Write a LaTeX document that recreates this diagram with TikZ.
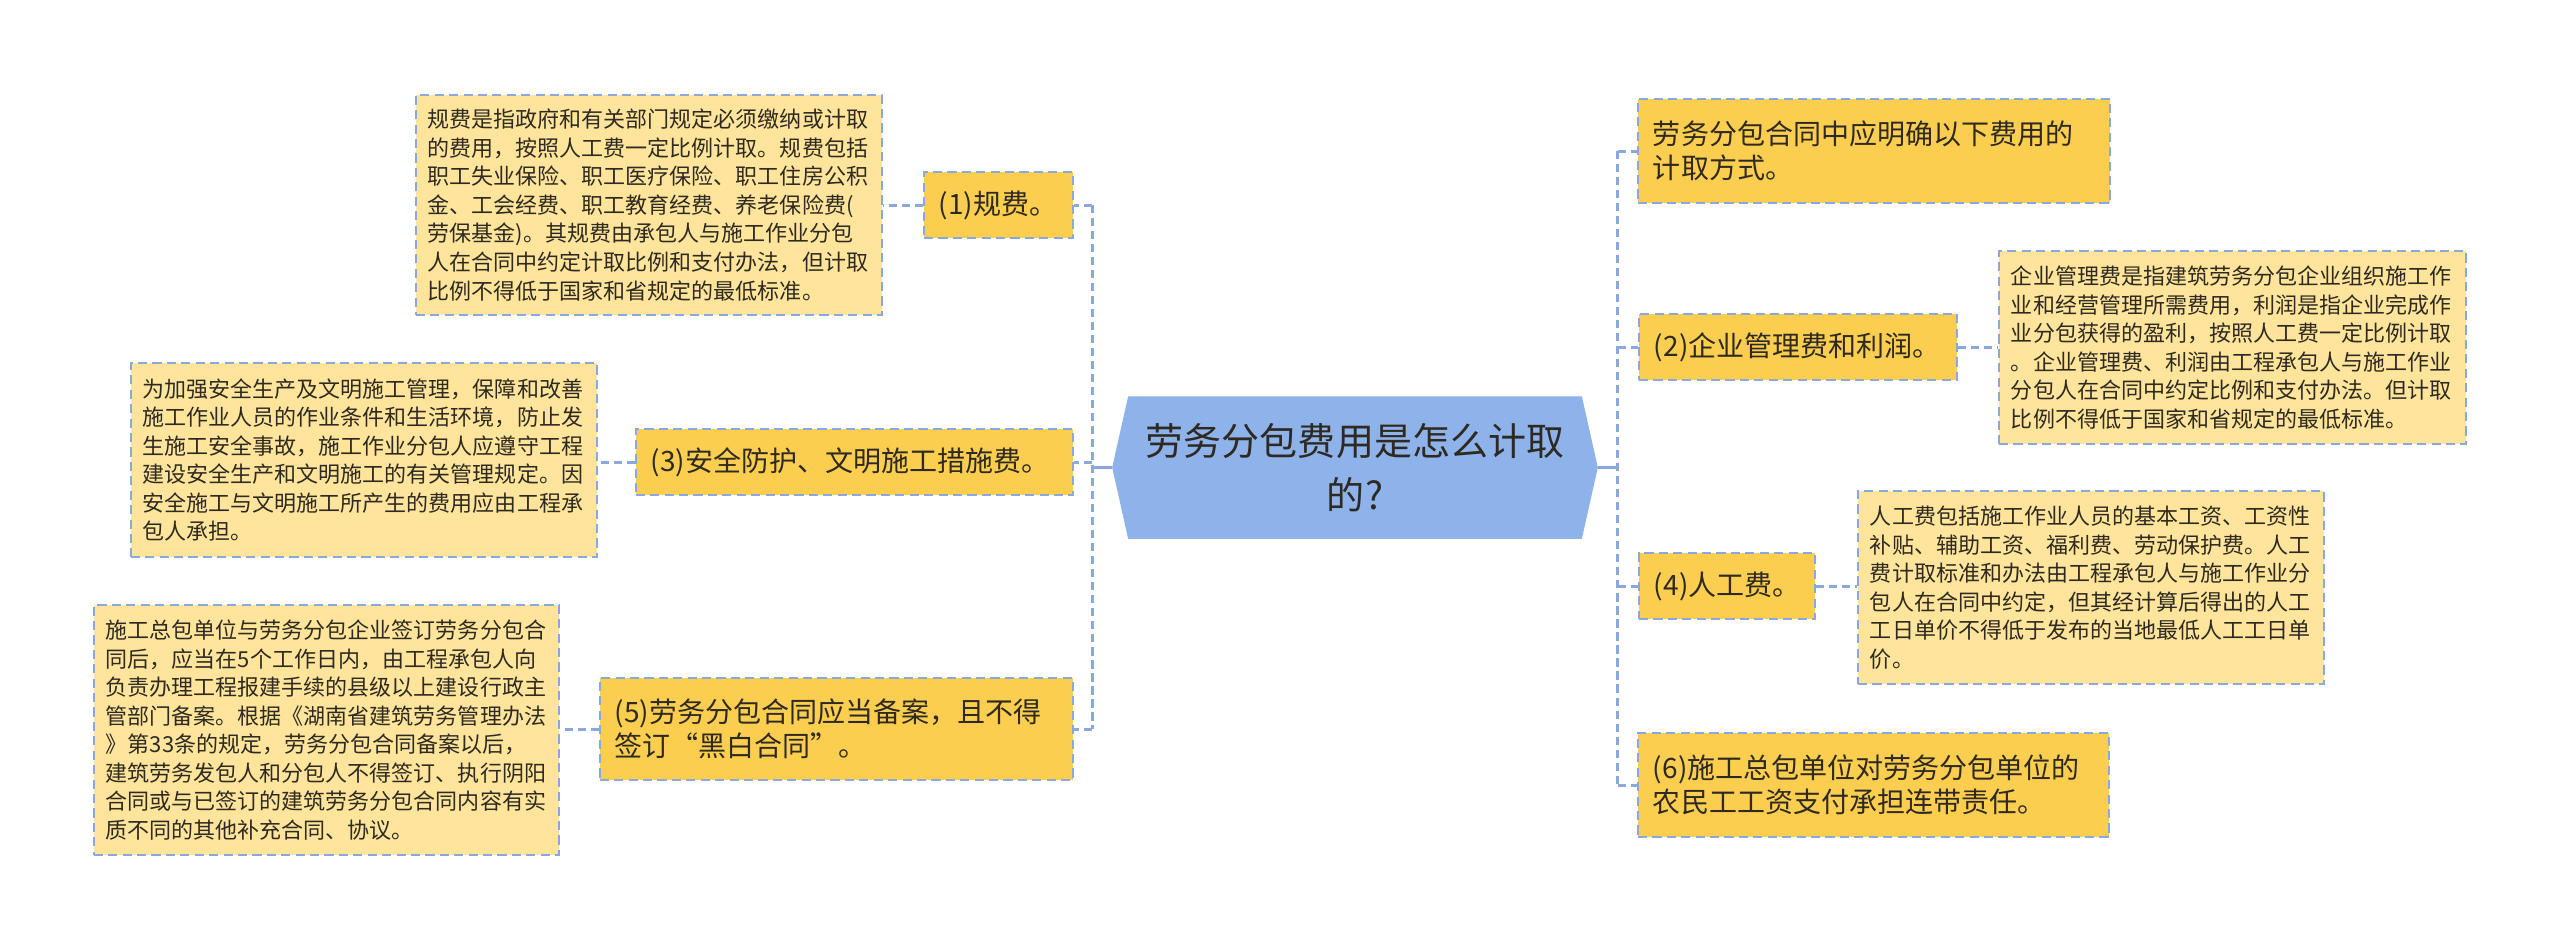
\documentclass[tikz,border=0pt]{standalone}
\usepackage{fontspec}
\usepackage{tikz}
\usetikzlibrary{calc, backgrounds}
\newfontfamily\cjk{Noto Sans CJK SC}
\definecolor{MapInk}{HTML}{2E2A22}
\definecolor{TopicFill}{HTML}{FCCE50}
\definecolor{NoteFill}{HTML}{FEE59B}
\definecolor{RootFill}{HTML}{8EB2EA}
\definecolor{LinkBlue}{HTML}{8AA8DE}

\begin{document}
\begin{tikzpicture}[x=0.01cm, y=-0.01cm,
  topic/.style={rectangle, fill=TopicFill, draw=LinkBlue, line width=0.55pt,
    dash pattern=on 2.6pt off 1.5pt, text=MapInk, align=left,
    font=\cjk\fontsize{7.97pt}{9.67pt}\selectfont,
    inner xsep=0.15cm, inner ysep=0pt, minimum height=0.66cm},
  note/.style={rectangle, fill=NoteFill, draw=LinkBlue, line width=0.55pt,
    dash pattern=on 2.6pt off 1.5pt, text=MapInk, align=left,
    font=\cjk\fontsize{6.26pt}{8.11pt}\selectfont,
    inner xsep=0.12cm, inner ysep=0pt},
  link/.style={draw=LinkBlue, line width=0.85pt, dash pattern=on 2.3pt off 1.4pt},
  stem/.style={draw=LinkBlue, line width=0.85pt}]
\useasboundingbox (0,0) rectangle (2560,950);

% centre
\node[text=MapInk, align=center, font=\cjk\fontsize{10.81pt}{15.36pt}\selectfont,
  minimum width=4.84cm, minimum height=1.41cm, text width=4.4cm, inner sep=0pt]
  (root) at (1355,467.5) {劳务分包费用是怎么计取\\的?};
\begin{scope}[on background layer]
\fill[RootFill] (root.west) -- ($(root.north west)+(16,0)$)
  -- ($(root.north east)+(-16,0)$) -- (root.east)
  -- ($(root.south east)+(-16,0)$) -- ($(root.south west)+(16,0)$) -- cycle;
\end{scope}

% left branch
\node[topic, anchor=east, text width=1.19cm] (n1) at (1074,205) {(1)规费。};
\node[topic, anchor=east, text width=4.07cm] (n3) at (1074,462)
  {(3)安全防护、文明施工措施费。};
\node[topic, anchor=east, text width=4.43cm, minimum height=1.02cm] (n5) at (1074,729)
  {(5)劳务分包合同应当备案，且不得\\签订“黑白合同”。};

\node[note, anchor=east, text width=4.42cm, minimum height=2.2cm] (d1) at (883,205)
  {规费是指政府和有关部门规定必须缴纳或计取\\
   的费用，按照人工费一定比例计取。规费包括\\
   职工失业保险、职工医疗保险、职工住房公积\\
   金、工会经费、职工教育经费、养老保险费(\\
   劳保基金)。其规费由承包人与施工作业分包\\
   人在合同中约定计取比例和支付办法，但计取\\
   比例不得低于国家和省规定的最低标准。};
\node[note, anchor=east, text width=4.42cm, minimum height=1.94cm] (d3) at (598,460)
  {为加强安全生产及文明施工管理，保障和改善\\
   施工作业人员的作业条件和生活环境，防止发\\
   生施工安全事故，施工作业分包人应遵守工程\\
   建设安全生产和文明施工的有关管理规定。因\\
   安全施工与文明施工所产生的费用应由工程承\\
   包人承担。};
\node[note, anchor=east, text width=4.41cm, minimum height=2.5cm] (d5) at (560,730)
  {施工总包单位与劳务分包企业签订劳务分包合\\
   同后，应当在5个工作日内，由工程承包人向\\
   负责办理工程报建手续的县级以上建设行政主\\
   管部门备案。根据《湖南省建筑劳务管理办法\\
   》第33条的规定，劳务分包合同备案以后，\\
   建筑劳务发包人和分包人不得签订、执行阴阳\\
   合同或与已签订的建筑劳务分包合同内容有实\\
   质不同的其他补充合同、协议。};

% right branch
\node[topic, anchor=west, text width=4.42cm, minimum height=1.04cm] (r0) at (1637,151)
  {劳务分包合同中应明确以下费用的\\计取方式。};
\node[topic, anchor=west, text width=2.88cm] (n2) at (1638,347) {(2)企业管理费和利润。};
\node[topic, anchor=west, text width=1.46cm] (n4) at (1638,586) {(4)人工费。};
\node[topic, anchor=west, text width=4.41cm, minimum height=1.04cm] (n6) at (1637,785)
  {(6)施工总包单位对劳务分包单位的\\农民工工资支付承担连带责任。};

\node[note, anchor=west, text width=4.43cm, minimum height=1.93cm] (d2) at (1998,347.5)
  {企业管理费是指建筑劳务分包企业组织施工作\\
   业和经营管理所需费用，利润是指企业完成作\\
   业分包获得的盈利，按照人工费一定比例计取\\
   。企业管理费、利润由工程承包人与施工作业\\
   分包人在合同中约定比例和支付办法。但计取\\
   比例不得低于国家和省规定的最低标准。};
\node[note, anchor=west, text width=4.42cm, minimum height=1.93cm] (d4) at (1857,587.5)
  {人工费包括施工作业人员的基本工资、工资性\\
   补贴、辅助工资、福利费、劳动保护费。人工\\
   费计取标准和办法由工程承包人与施工作业分\\
   包人在合同中约定，但其经计算后得出的人工\\
   工日单价不得低于发布的当地最低人工工日单\\
   价。};

% connectors
\coordinate (lhub) at ($(root.west)+(-20,0)$);
\coordinate (rhub) at ($(root.east)+(20,0)$);
\draw[stem] (root.west) -- (lhub);
\draw[stem] (root.east) -- (rhub);
\draw[link] (lhub |- n1.east) -- (lhub |- n5.east);
\draw[link] (rhub |- r0.west) -- (rhub |- n6.west);
\foreach \t in {n1, n3, n5} {
  \draw[link] (lhub |- \t.east) -- (\t.east);
}
\foreach \t in {r0, n2, n4, n6} {
  \draw[link] (rhub |- \t.west) -- (\t.west);
}
\draw[link] (n1.west) -- (n1.west -| d1.east);
\draw[link] (n3.west) -- (n3.west -| d3.east);
\draw[link] (n5.west) -- (n5.west -| d5.east);
\draw[link] (n2.east) -- (n2.east -| d2.west);
\draw[link] (n4.east) -- (n4.east -| d4.west);
\end{tikzpicture}
\end{document}
